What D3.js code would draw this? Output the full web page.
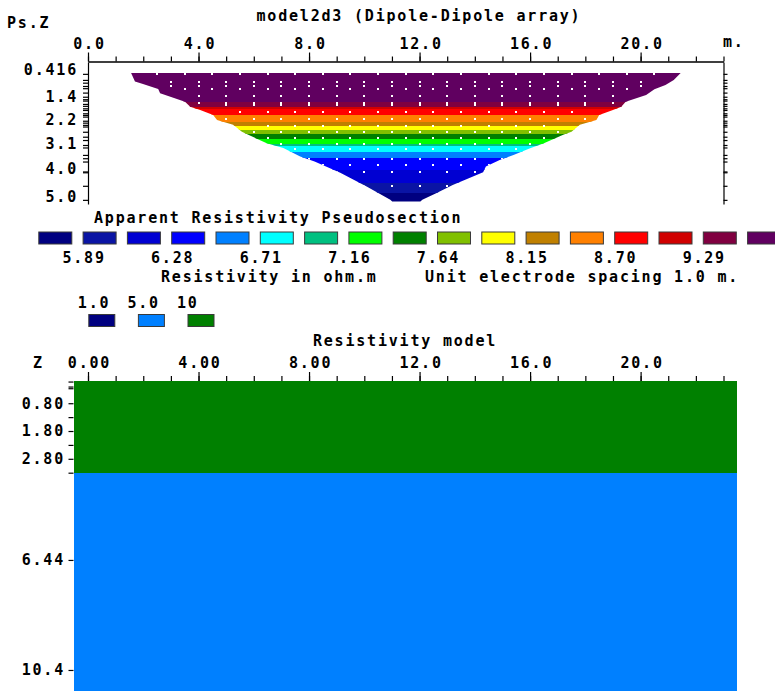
<!DOCTYPE html>
<html>
<head>
<meta charset="utf-8">
<script src="https://cdn.jsdelivr.net/npm/d3@7"></script>
<style>
body { margin: 0; background: #fff; }
svg text { font-family: "DejaVu Sans Mono", monospace; font-weight: bold; font-size: 15px; letter-spacing: 1.8px; fill: #000; }
.axis path.domain, .axis line { stroke: #000; stroke-width: 1.2; }
.band { shape-rendering: crispEdges; }
</style>
</head>
<body>
<div id="chart"></div>
<script>

// contour levels of the apparent resistivity legend (ohm.m) and its palette
var rhoLevels = [5.89, 6.08, 6.28, 6.49, 6.71, 6.93, 7.16, 7.40, 7.64, 7.89, 8.15, 8.42, 8.70, 8.99, 9.29, 9.60];
var rhoColors = ["#000080", "#0a14a4", "#0000d2", "#0000ff", "#0080ff", "#00ffff", "#00c080", "#00ff00", "#008000",
                 "#80c000", "#ffff00", "#c08000", "#ff8000", "#ff0000", "#d00000", "#800040", "#600060"];
var legendLabels = [5.89, 6.28, 6.71, 7.16, 7.64, 8.15, 8.70, 9.29];

// apparent resistivity read down the centre of the pseudosection
var pseudoDepth = [0.42, 1.00, 1.44, 1.62, 1.70, 1.92, 2.16, 2.31, 2.46, 2.61, 2.76, 2.95, 3.04, 3.25, 3.47, 3.91, 4.38, 4.75, 5.06];
var pseudoRho   = [9.98, 9.85, 9.60, 9.29, 8.99, 8.70, 8.42, 8.15, 7.89, 7.64, 7.40, 7.16, 6.93, 6.71, 6.49, 6.28, 6.08, 5.89, 5.78];

// outline of the pseudosection (m)
var edgeLeftDepth  = [0.40, 0.71, 0.80, 0.98, 1.13, 1.44, 1.62, 1.74, 1.92, 2.10, 2.28, 2.53, 2.64, 2.95, 3.12, 3.43, 3.61, 4.02, 4.52, 5.00, 5.06];
var edgeLeftX      = [1.56, 1.70, 1.99, 2.54, 2.61, 3.51, 3.70, 4.06, 4.53, 4.67, 5.25, 5.57, 5.80, 6.47, 7.07, 7.68, 8.20, 9.13, 10.10, 10.94, 11.01];
var edgeRightDepth = [0.40, 0.65, 0.83, 0.99, 1.20, 1.44, 1.62, 1.74, 1.92, 2.10, 2.28, 2.53, 2.64, 2.95, 3.13, 3.37, 3.55, 3.79, 4.00, 4.46, 4.76, 5.00, 5.06];
var edgeRightX     = [21.45, 21.2, 20.9, 20.5, 20.2, 19.46, 19.3, 19.0, 18.5, 18.4, 17.8, 17.5, 17.2, 16.5, 16.0, 15.4, 14.9, 14.4, 14.3, 13.2, 12.6, 12.1, 12.03];

// data point rows: pseudodepth, first and last midpoint (m)
var dotDepth = [0.42, 0.72, 0.86, 0.98, 1.24, 1.47, 1.55, 1.80, 2.07, 2.31, 2.55, 2.76, 2.98, 3.16, 3.51, 3.73, 4.00, 4.49];
var dotFrom  = [2.5, 3.0, 3.0, 3.5, 4.0, 4.0, 5.0, 5.5, 5.0, 6.5, 6.0, 6.5, 7.0, 7.5, 8.0, 8.5, 9.0, 10.0];
var dotTo    = [20.5, 20.0, 20.0, 19.5, 19.0, 19.0, 18.0, 17.5, 18.0, 16.5, 17.0, 16.5, 16.0, 15.5, 15.0, 14.5, 14.0, 13.0];

// depth ticks of the pseudosection
var levelTicks = [0.43, 0.65, 0.75, 0.87, 0.95, 1.11, 1.26, 1.35, 1.40, 1.52, 1.59, 1.68, 1.74, 1.86, 1.92, 1.98, 2.13, 2.20,
                  2.28, 2.34, 2.53, 2.71, 2.83, 3.01, 3.10, 3.37, 3.49, 3.61, 3.97, 4.00, 4.49, 5.00];
var depthLabels = [0.416, 1.4, 2.2, 3.1, 4.0, 5.0];
var depthLabelText = ["0.416", "1.4", "2.2", "3.1", "4.0", "5.0"];

var xMajor = [0, 4, 8, 12, 16, 20];
var xMinor = [0, 1, 2, 3, 4, 5, 6, 7, 8, 9, 10, 11, 12, 13, 14, 15, 16, 17, 18, 19, 20, 21, 22, 23];
var pseudoXLabels = ["0.0", "4.0", "8.0", "12.0", "16.0", "20.0"];
var modelXLabels = ["0.00", "4.00", "8.00", "12.0", "16.0", "20.0"];

// resistivity model
var modelLayerTop = [0, 3.3];
var modelLayerBottom = [3.3, 12];
var modelLayerRho = [10, 5.0];
var modelXRange = [-0.5, 23.5];
var modelRho = [1.0, 5.0, 10];
var modelRhoText = ["1.0", "5.0", "10"];
var modelColors = ["#000080", "#0080ff", "#008000"];
var modelDepthTicks = [0.02, 0.2, 0.26, 0.80, 1.30, 1.80, 2.30, 2.80, 3.30, 6.44, 10.4];
var modelDepthLabels = [0.80, 1.80, 2.80, 6.44, 10.4];
var modelDepthLabelText = ["0.80", "1.80", "2.80", "6.44", "10.4"];


var W = 775, H = 691;

var svg = d3.select("#chart").append("svg")
    .attr("width", W)
    .attr("height", H);

svg.append("rect").attr("width", W).attr("height", H).attr("fill", "#fff");

var x = d3.scaleLinear().domain([0, 23]).range([88, 723.5]);
var y = d3.scaleLinear().domain([0, 5.15]).range([62, 204]);

var colorOf = d3.scaleThreshold().domain(rhoLevels).range(rhoColors);
var depthOf = d3.scaleLinear().domain(pseudoRho).range(pseudoDepth).clamp(true);

//
// pseudosection
//

svg.append("text").attr("x", 7).attr("y", 28).text("Ps.Z");
svg.append("text").attr("x", 419).attr("y", 21).attr("text-anchor", "middle").text("model2d3 (Dipole-Dipole array)");
svg.append("text").attr("x", 723).attr("y", 47).text("m.");

var outline = edgeLeftDepth.map(function(d, i) { return [edgeLeftX[i], d]; })
    .concat(edgeRightDepth.map(function(d, i) { return [edgeRightX[i], d]; }).reverse());

var line_gen = d3.line()
    .x(function(p) { return x(p[0]); })
    .y(function(p) { return y(p[1]); });

svg.append("clipPath")
    .attr("id", "pseudo-clip")
    .append("path")
    .attr("d", line_gen(outline) + "Z");

var bands = rhoColors.map(function(c, i) {
    var lo = i === 0 ? d3.min(pseudoRho) : rhoLevels[i - 1];
    var hi = i === rhoColors.length - 1 ? d3.max(pseudoRho) : rhoLevels[i];
    return { color: c, top: depthOf(hi), bottom: depthOf(lo) };
});

var pseudo_g = svg.append("g").attr("clip-path", "url(#pseudo-clip)");

pseudo_g.selectAll("rect.band")
    .data(bands)
    .enter().append("rect")
    .attr("class", "band")
    .attr("x", x(0))
    .attr("width", x(23) - x(0))
    .attr("y", function(d) { return y(d.top) - 0.5; })
    .attr("height", function(d) { return Math.max(0, y(d.bottom) - y(d.top) + 1); })
    .attr("fill", function(d) { return d.color; });

var dots = [];
dotDepth.forEach(function(d, i) {
    d3.range(dotFrom[i], dotTo[i] + 0.001, 1).forEach(function(v) { dots.push({ v: v, d: d }); });
});

pseudo_g.selectAll("rect.dot")
    .data(dots)
    .enter().append("rect")
    .attr("class", "dot")
    .attr("x", function(p) { return Math.round(x(p.v)) - 1; })
    .attr("y", function(p) { return Math.round(y(p.d)) - 1; })
    .attr("width", 2)
    .attr("height", 2)
    .attr("fill", "#fff");

// axes of the pseudosection
svg.append("g")
    .attr("class", "axis")
    .attr("transform", "translate(0,61.5)")
    .call(d3.axisTop(x).tickValues(xMinor).tickSize(5).tickSizeOuter(0).tickFormat(""));

svg.append("g")
    .attr("class", "axis")
    .attr("transform", "translate(0,61.5)")
    .call(d3.axisTop(x).tickValues(xMajor).tickSize(9).tickSizeOuter(0).tickPadding(3.5)
        .tickFormat(function(d, i) { return pseudoXLabels[i]; }))
    .call(function(g) { g.selectAll("text").attr("dx", 1); });

svg.append("g")
    .attr("class", "axis")
    .attr("transform", "translate(88,0)")
    .call(d3.axisLeft(y).tickValues(levelTicks).tickSize(5).tickSizeOuter(0).tickFormat(""));

svg.append("g")
    .attr("class", "axis")
    .attr("transform", "translate(88,0)")
    .call(d3.axisLeft(y).tickValues(depthLabels).tickSize(0).tickPadding(10)
        .tickFormat(function(d, i) { return depthLabelText[i]; }))
    .call(function(g) { g.select(".domain").remove(); g.selectAll("text").attr("dy", "0.09em"); });

svg.append("g")
    .attr("class", "axis")
    .attr("transform", "translate(723.5,0)")
    .call(d3.axisRight(y).tickValues(levelTicks).tickSize(4).tickSizeOuter(0).tickFormat(""));

svg.selectAll(".axis text").attr("font-family", null).attr("font-size", null).attr("fill", "#000");

//
// legend
//

svg.append("text").attr("x", 94).attr("y", 223).text("Apparent Resistivity Pseudosection");

var legendX = d3.scaleLinear().domain([0, 1]).range([38.3, 82.6]);

svg.append("g").selectAll("rect")
    .data(rhoColors)
    .enter().append("rect")
    .attr("x", function(d, i) { return legendX(i) + 0.5; })
    .attr("y", 232)
    .attr("width", 33)
    .attr("height", 12)
    .attr("fill", function(d) { return d; })
    .attr("stroke", "#3a3a3a")
    .attr("stroke-width", 1);

svg.append("g").selectAll("text")
    .data(legendLabels)
    .enter().append("text")
    .attr("x", function(d) { return legendX(rhoLevels.indexOf(d) + 1) + 1.5; })
    .attr("y", 263)
    .attr("text-anchor", "middle")
    .text(function(d) { return d3.format(".2f")(d); });

svg.append("text").attr("x", 161).attr("y", 282).text("Resistivity in ohm.m");
svg.append("text").attr("x", 425).attr("y", 282).text("Unit electrode spacing 1.0 m.");

var modelLegendX = d3.scaleLinear().domain([0, 1]).range([88.3, 137.9]);

svg.append("g").selectAll("text")
    .data(modelRhoText)
    .enter().append("text")
    .attr("x", function(d, i) { return modelLegendX(i) - 10.5; })
    .attr("y", 307.5)
    .text(function(d) { return d; });

svg.append("g").selectAll("rect")
    .data(modelColors)
    .enter().append("rect")
    .attr("x", function(d, i) { return modelLegendX(i) + 0.5; })
    .attr("y", 314.5)
    .attr("width", 26)
    .attr("height", 12)
    .attr("fill", function(d) { return d; })
    .attr("stroke", "#3a3a3a")
    .attr("stroke-width", 1);

//
// resistivity model
//

var my = d3.scaleLinear().domain([0, 11.2]).range([381, 692.2]);
var modelColor = d3.scaleOrdinal().domain(modelRho).range(modelColors);

svg.append("text").attr("x", 405).attr("y", 346).attr("text-anchor", "middle").text("Resistivity model");
svg.append("text").attr("x", 33).attr("y", 368).text("Z");

svg.append("g").selectAll("rect")
    .data(modelLayerRho)
    .enter().append("rect")
    .attr("class", "band")
    .attr("x", x(modelXRange[0]))
    .attr("width", x(modelXRange[1]) - x(modelXRange[0]))
    .attr("y", function(d, i) { return my(modelLayerTop[i]); })
    .attr("height", function(d, i) { return my(modelLayerBottom[i]) - my(modelLayerTop[i]); })
    .attr("fill", function(d) { return modelColor(d); });

svg.append("g")
    .attr("class", "axis")
    .attr("transform", "translate(0,381)")
    .call(d3.axisTop(x).tickValues(xMinor).tickSize(5).tickSizeOuter(0).tickFormat(""))
    .call(function(g) { g.select(".domain").remove(); });

svg.append("g")
    .attr("class", "axis")
    .attr("transform", "translate(0,381)")
    .call(d3.axisTop(x).tickValues(xMajor).tickSize(9).tickSizeOuter(0).tickPadding(4)
        .tickFormat(function(d, i) { return modelXLabels[i]; }))
    .call(function(g) { g.select(".domain").remove(); g.selectAll("text").attr("dx", 1); });

svg.append("g")
    .attr("class", "axis")
    .attr("transform", "translate(73.5,0)")
    .call(d3.axisLeft(my).tickValues(modelDepthTicks).tickSize(5).tickFormat(""))
    .call(function(g) { g.select(".domain").remove(); });

svg.append("g")
    .attr("class", "axis")
    .attr("transform", "translate(73.5,0)")
    .call(d3.axisLeft(my).tickValues(modelDepthLabels).tickSize(0).tickPadding(8.5)
        .tickFormat(function(d, i) { return modelDepthLabelText[i]; }))
    .call(function(g) { g.select(".domain").remove(); });

svg.selectAll(".axis text").attr("font-family", null).attr("font-size", null).attr("fill", "#000");

</script>
</body>
</html>
